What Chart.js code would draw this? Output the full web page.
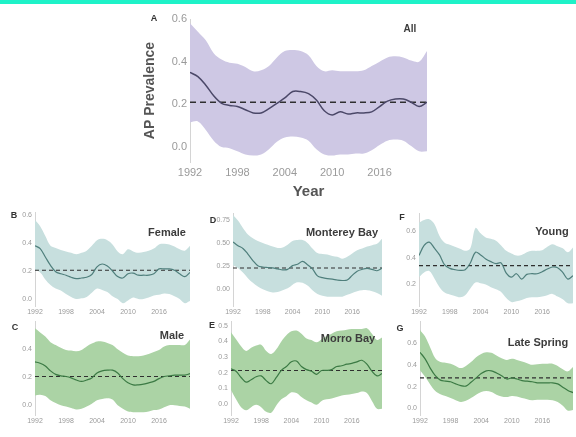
<!DOCTYPE html>
<html>
<head>
<meta charset="utf-8">
<script src="https://cdn.jsdelivr.net/npm/chart.js@4.4.0/dist/chart.umd.min.js"></script>
<style>
  body { margin: 0; background: #fff; font-family: "Liberation Sans", Arial, sans-serif; }
  #page { position: relative; width: 576px; height: 437px; overflow: hidden; }
  #topbar { position: absolute; left: 0; top: 0; width: 576px; height: 4px; background: #1ef2c8; }
  .panel { position: absolute; }
  .lbl { position: absolute; transform: translate(-50%, -50%); white-space: nowrap; font-weight: bold; color: #3c3c3c; }
  .letter { font-size: 9px; color: #333; }
  .name { font-size: 11px; }
  .big { font-size: 10px; }
</style>
</head>
<body>
<div id="page">
  <div id="topbar"></div>
</div>
<script>
// years of the smoothed series
const years = [1992, 1993, 1994, 1995, 1996, 1997, 1998, 1999, 2000, 2001, 2002,
               2003, 2004, 2005, 2006, 2007, 2008, 2009, 2010, 2011, 2012, 2013,
               2014, 2015, 2016, 2017, 2018, 2019, 2020, 2021, 2022];
const xTicks = [1992, 1998, 2004, 2010, 2016];

// A - All
const allMean  = [0.35, 0.33, 0.29, 0.24, 0.205, 0.195, 0.19, 0.175, 0.16, 0.16, 0.18, 0.205, 0.23, 0.26, 0.26, 0.25, 0.22, 0.17, 0.15, 0.165, 0.155, 0.16, 0.16, 0.165, 0.19, 0.215, 0.225, 0.225, 0.21, 0.19, 0.21];
const allUpper = [0.58, 0.54, 0.50, 0.44, 0.41, 0.395, 0.39, 0.375, 0.355, 0.36, 0.38, 0.42, 0.45, 0.455, 0.45, 0.43, 0.38, 0.355, 0.36, 0.355, 0.355, 0.355, 0.36, 0.38, 0.40, 0.42, 0.425, 0.42, 0.405, 0.40, 0.45];
const allLower = [0.115, 0.12, 0.08, 0.03, 0.0, -0.005, -0.02, -0.035, -0.04, -0.035, -0.01, 0.025, 0.045, 0.05, 0.045, 0.03, -0.01, -0.035, -0.04, -0.035, -0.035, -0.03, -0.03, -0.015, 0.01, 0.03, 0.035, 0.03, 0.005, -0.02, -0.02];
const allRef = 0.21;
const allYTicks = [0, 0.2, 0.4, 0.6];

// B - Female
const femaleMean  = [0.38, 0.36, 0.30, 0.24, 0.195, 0.18, 0.17, 0.155, 0.145, 0.15, 0.155, 0.175, 0.23, 0.25, 0.235, 0.2, 0.16, 0.15, 0.18, 0.185, 0.17, 0.17, 0.17, 0.18, 0.215, 0.215, 0.215, 0.205, 0.18, 0.16, 0.19];
const femaleUpper = [0.565, 0.52, 0.45, 0.38, 0.365, 0.35, 0.34, 0.33, 0.32, 0.33, 0.345, 0.38, 0.42, 0.43, 0.42, 0.39, 0.34, 0.32, 0.355, 0.34, 0.33, 0.335, 0.345, 0.36, 0.39, 0.395, 0.39, 0.375, 0.355, 0.345, 0.38];
const femaleLower = [0.205, 0.19, 0.14, 0.10, 0.075, 0.06, 0.035, 0.015, 0.0, 0.005, 0.015, 0.045, 0.075, 0.065, 0.05, 0.02, 0.0, -0.03, -0.01, 0.01, 0.0, 0.0, 0.01, 0.025, 0.03, 0.04, 0.035, 0.02, 0.0, -0.03, -0.015];
const femaleRef = 0.205;
const femaleYTicks = [0, 0.2, 0.4, 0.6];

// D - Monterey Bay
const montereyMean  = [0.51, 0.47, 0.44, 0.38, 0.31, 0.255, 0.24, 0.235, 0.23, 0.22, 0.21, 0.215, 0.255, 0.27, 0.30, 0.265, 0.22, 0.145, 0.125, 0.115, 0.11, 0.10, 0.095, 0.10, 0.15, 0.195, 0.215, 0.225, 0.215, 0.20, 0.225];
const montereyUpper = [0.80, 0.74, 0.66, 0.59, 0.55, 0.52, 0.50, 0.48, 0.46, 0.445, 0.45, 0.48, 0.52, 0.53, 0.53, 0.50, 0.44, 0.39, 0.38, 0.375, 0.36, 0.35, 0.33, 0.35, 0.385, 0.42, 0.44, 0.46, 0.475, 0.49, 0.545];
const montereyLower = [0.26, 0.23, 0.18, 0.12, 0.07, 0.03, 0.0, -0.02, -0.035, -0.03, -0.01, 0.01, 0.05, 0.075, 0.07, 0.04, -0.01, -0.05, -0.07, -0.08, -0.08, -0.08, -0.08, -0.06, -0.04, -0.02, -0.01, -0.01, -0.02, -0.04, -0.07];
const montereyRef = 0.23;
const montereyYTicks = [0, 0.25, 0.5, 0.75];

// F - Young
const youngMean  = [0.415, 0.49, 0.515, 0.47, 0.42, 0.345, 0.32, 0.31, 0.305, 0.31, 0.36, 0.44, 0.42, 0.39, 0.37, 0.355, 0.36, 0.285, 0.255, 0.28, 0.24, 0.275, 0.28, 0.28, 0.295, 0.315, 0.33, 0.325, 0.29, 0.24, 0.265];
const youngUpper = [0.66, 0.68, 0.685, 0.65, 0.56, 0.51, 0.495, 0.48, 0.465, 0.45, 0.47, 0.62, 0.58, 0.55, 0.54, 0.525, 0.49, 0.45, 0.43, 0.415, 0.42, 0.44, 0.45, 0.45, 0.455, 0.48, 0.50, 0.485, 0.47, 0.44, 0.475];
const youngLower = [0.255, 0.29, 0.30, 0.245, 0.18, 0.14, 0.125, 0.115, 0.105, 0.12, 0.17, 0.215, 0.21, 0.20, 0.18, 0.165, 0.145, 0.10, 0.07, 0.075, 0.085, 0.10, 0.105, 0.105, 0.11, 0.12, 0.13, 0.11, 0.09, 0.06, 0.06];
const youngRef = 0.34;
const youngYTicks = [0.2, 0.4, 0.6];

// C - Male
const maleMean  = [0.31, 0.30, 0.28, 0.245, 0.22, 0.21, 0.205, 0.195, 0.18, 0.17, 0.18, 0.195, 0.23, 0.245, 0.25, 0.25, 0.23, 0.19, 0.16, 0.145, 0.145, 0.15, 0.16, 0.17, 0.19, 0.205, 0.21, 0.215, 0.215, 0.215, 0.225];
const maleUpper = [0.55, 0.52, 0.49, 0.45, 0.43, 0.41, 0.395, 0.39, 0.385, 0.395, 0.42, 0.44, 0.455, 0.455, 0.445, 0.43, 0.40, 0.375, 0.355, 0.35, 0.35, 0.355, 0.365, 0.38, 0.395, 0.42, 0.43, 0.43, 0.43, 0.43, 0.47];
const maleLower = [0.07, 0.075, 0.065, 0.035, 0.015, 0.0, -0.01, -0.02, -0.03, -0.025, -0.01, 0.01, 0.035, 0.045, 0.05, 0.04, 0.0, -0.025, -0.045, -0.05, -0.05, -0.05, -0.045, -0.035, -0.03, -0.015, 0.0, 0.0, -0.005, -0.01, -0.025];
const maleRef = 0.205;
const maleYTicks = [0, 0.2, 0.4];

// E - Morro Bay
const morroMean  = [0.225, 0.21, 0.17, 0.14, 0.155, 0.175, 0.18, 0.15, 0.13, 0.17, 0.215, 0.24, 0.27, 0.275, 0.24, 0.22, 0.21, 0.19, 0.215, 0.215, 0.22, 0.24, 0.245, 0.255, 0.26, 0.27, 0.28, 0.255, 0.21, 0.18, 0.195];
const morroUpper = [0.46, 0.415, 0.37, 0.34, 0.36, 0.375, 0.38, 0.34, 0.32, 0.35, 0.40, 0.44, 0.465, 0.47, 0.45, 0.42, 0.41, 0.395, 0.415, 0.435, 0.45, 0.465, 0.47, 0.475, 0.48, 0.48, 0.48, 0.485, 0.45, 0.41, 0.425];
const morroLower = [0.09, 0.03, -0.02, -0.04, -0.02, -0.005, -0.02, -0.05, -0.055, -0.01, 0.03, 0.05, 0.075, 0.07, 0.045, 0.025, 0.01, -0.005, 0.02, 0.03, 0.035, 0.045, 0.055, 0.06, 0.065, 0.07, 0.08, 0.07, 0.02, -0.03, -0.03];
const morroRef = 0.215;
const morroYTicks = [0, 0.1, 0.2, 0.3, 0.4, 0.5];

// G - Late Spring
const springMean  = [0.515, 0.455, 0.37, 0.30, 0.26, 0.25, 0.245, 0.225, 0.21, 0.205, 0.24, 0.28, 0.32, 0.345, 0.345, 0.325, 0.30, 0.27, 0.28, 0.27, 0.255, 0.25, 0.245, 0.235, 0.235, 0.235, 0.235, 0.225, 0.195, 0.165, 0.145];
const springUpper = [0.72, 0.66, 0.56, 0.46, 0.425, 0.42, 0.41, 0.39, 0.37, 0.39, 0.425, 0.47, 0.50, 0.515, 0.51, 0.485, 0.46, 0.445, 0.455, 0.445, 0.43, 0.415, 0.40, 0.405, 0.41, 0.41, 0.41, 0.39, 0.36, 0.34, 0.38];
const springLower = [0.35, 0.29, 0.22, 0.16, 0.13, 0.115, 0.095, 0.075, 0.06, 0.07, 0.095, 0.125, 0.15, 0.16, 0.15, 0.125, 0.11, 0.105, 0.115, 0.11, 0.095, 0.085, 0.075, 0.08, 0.08, 0.08, 0.075, 0.06, 0.025, -0.02, -0.015];
const springRef = 0.28;
const springYTicks = [0, 0.2, 0.4, 0.6];

const purpleBand = '#cec8e4', purpleLine = '#4b4868';
const tealBand = '#c7dfde', tealLine = '#4f7f7c';
const greenBand = '#abd3a5', greenLine = '#3b7a44';

const page = document.getElementById('page');

function addLabel(text, x, y, cls) {
    const d = document.createElement('div');
    d.className = 'lbl ' + cls;
    d.style.left = x + 'px';
    d.style.top = y + 'px';
    d.textContent = text;
    page.appendChild(d);
}

function toPoints(vals) {
    return vals.map((v, i) => ({ x: years[i], y: v }));
}

function drawPanel(p) {
    // canvas box is derived from the wanted plot area
    const big = !!p.big;
    const yw = big ? 50 : 26;
    const xh = big ? 45 : 14;
    const padTop = big ? 12 : 6;
    const padRight = 4;
    const left = p.plot[0] - yw;
    const top = p.plot[2] - padTop;
    const width = p.plot[1] + padRight - left;
    const height = p.plot[3] + xh - top;

    const wrap = document.createElement('div');
    wrap.className = 'panel';
    wrap.style.left = left + 'px';
    wrap.style.top = top + 'px';
    const canvas = document.createElement('canvas');
    canvas.width = width;
    canvas.height = height;
    canvas.style.width = width + 'px';
    canvas.style.height = height + 'px';
    wrap.appendChild(canvas);
    page.appendChild(wrap);

    const tickFont = { family: '"Liberation Sans", Arial, sans-serif', size: big ? 11 : 7 };

    new Chart(canvas.getContext('2d'), {
        type: 'line',
        data: {
            datasets: [
                {
                    data: toPoints(p.upper),
                    borderWidth: 0,
                    pointRadius: 0,
                    tension: 0.35,
                    fill: false,
                    order: 4
                },
                {
                    data: toPoints(p.lower),
                    borderWidth: 0,
                    pointRadius: 0,
                    tension: 0.35,
                    backgroundColor: p.band,
                    fill: 0,
                    order: 3
                },
                {
                    data: [{ x: 1992, y: p.ref }, { x: 2022, y: p.ref }],
                    borderColor: '#2f2f2f',
                    borderWidth: big ? 1.5 : 1.1,
                    borderDash: big ? [6, 4] : [4, 3],
                    pointRadius: 0,
                    fill: false,
                    order: 1
                },
                {
                    data: toPoints(p.mean),
                    borderColor: p.line,
                    borderWidth: big ? 1.5 : 1.2,
                    pointRadius: 0,
                    tension: 0.35,
                    fill: false,
                    order: 0
                }
            ]
        },
        options: {
            responsive: false,
            animation: false,
            layout: { padding: { top: padTop, right: padRight, left: 0, bottom: 0 } },
            plugins: {
                legend: { display: false },
                tooltip: { enabled: false }
            },
            scales: {
                x: {
                    type: 'linear',
                    min: 1992,
                    max: 2022,
                    afterBuildTicks: (scale) => { scale.ticks = xTicks.map(v => ({ value: v })); },
                    afterFit: (scale) => { scale.height = xh; },
                    grid: { display: false, drawTicks: false },
                    border: { display: false },
                    ticks: {
                        color: '#9a9a9a',
                        font: tickFont,
                        padding: big ? 4 : 2,
                        maxRotation: 0,
                        autoSkip: false,
                        callback: (v) => String(v)
                    },
                    title: {
                        display: big,
                        text: 'Year',
                        color: '#555',
                        font: { family: '"Liberation Sans", Arial, sans-serif', size: 15, weight: 'bold' },
                        padding: { top: 0, bottom: 6 }
                    }
                },
                y: {
                    min: p.yRange[0],
                    max: p.yRange[1],
                    afterBuildTicks: (scale) => { scale.ticks = p.yTicks.map(v => ({ value: v })); },
                    afterFit: (scale) => { scale.width = yw; },
                    grid: { display: false, drawTicks: false },
                    border: { display: true, color: '#d4d4d4', width: 1 },
                    ticks: {
                        color: '#9a9a9a',
                        font: tickFont,
                        padding: 3,
                        autoSkip: false,
                        callback: (v) => v.toFixed(p.decimals)
                    },
                    title: {
                        display: big,
                        text: 'AP Prevalence',
                        color: '#555',
                        font: { family: '"Liberation Sans", Arial, sans-serif', size: 14, weight: 'bold' },
                        padding: { top: 2, bottom: 0 }
                    }
                }
            }
        }
    });

    addLabel(p.letter, p.letterPos[0], p.letterPos[1], 'letter');
    addLabel(p.name, p.namePos[0], p.namePos[1], big ? 'big' : 'name');
}

drawPanel({ big: true, letter: 'A', name: 'All', mean: allMean, upper: allUpper, lower: allLower, ref: allRef,
    yTicks: allYTicks, decimals: 1, yRange: [-0.07, 0.6], plot: [190, 427, 19, 162],
    band: purpleBand, line: purpleLine, letterPos: [154, 18], namePos: [410, 28] });

drawPanel({ letter: 'B', name: 'Female', mean: femaleMean, upper: femaleUpper, lower: femaleLower, ref: femaleRef,
    yTicks: femaleYTicks, decimals: 1, yRange: [-0.05, 0.62], plot: [35, 190, 211, 306],
    band: tealBand, line: tealLine, letterPos: [14, 215], namePos: [167, 232] });

drawPanel({ letter: 'D', name: 'Monterey Bay', mean: montereyMean, upper: montereyUpper, lower: montereyLower, ref: montereyRef,
    yTicks: montereyYTicks, decimals: 2, yRange: [-0.18, 0.82], plot: [233, 382, 212, 306],
    band: tealBand, line: tealLine, letterPos: [213, 220], namePos: [342, 232] });

drawPanel({ letter: 'F', name: 'Young', mean: youngMean, upper: youngUpper, lower: youngLower, ref: youngRef,
    yTicks: youngYTicks, decimals: 1, yRange: [0.04, 0.73], plot: [419, 573, 212, 306],
    band: tealBand, line: tealLine, letterPos: [402, 217], namePos: [552, 231] });

drawPanel({ letter: 'C', name: 'Male', mean: maleMean, upper: maleUpper, lower: maleLower, ref: maleRef,
    yTicks: maleYTicks, decimals: 1, yRange: [-0.07, 0.6], plot: [35, 190, 320, 415],
    band: greenBand, line: greenLine, letterPos: [15, 327], namePos: [172, 335] });

drawPanel({ letter: 'E', name: 'Morro Bay', mean: morroMean, upper: morroUpper, lower: morroLower, ref: morroRef,
    yTicks: morroYTicks, decimals: 1, yRange: [-0.07, 0.53], plot: [231, 382, 320, 415],
    band: greenBand, line: greenLine, letterPos: [212, 325], namePos: [348, 338] });

drawPanel({ letter: 'G', name: 'Late Spring', mean: springMean, upper: springUpper, lower: springLower, ref: springRef,
    yTicks: springYTicks, decimals: 1, yRange: [-0.06, 0.8], plot: [420, 573, 320, 415],
    band: greenBand, line: greenLine, letterPos: [400, 328], namePos: [538, 342] });
</script>
</body>
</html>
